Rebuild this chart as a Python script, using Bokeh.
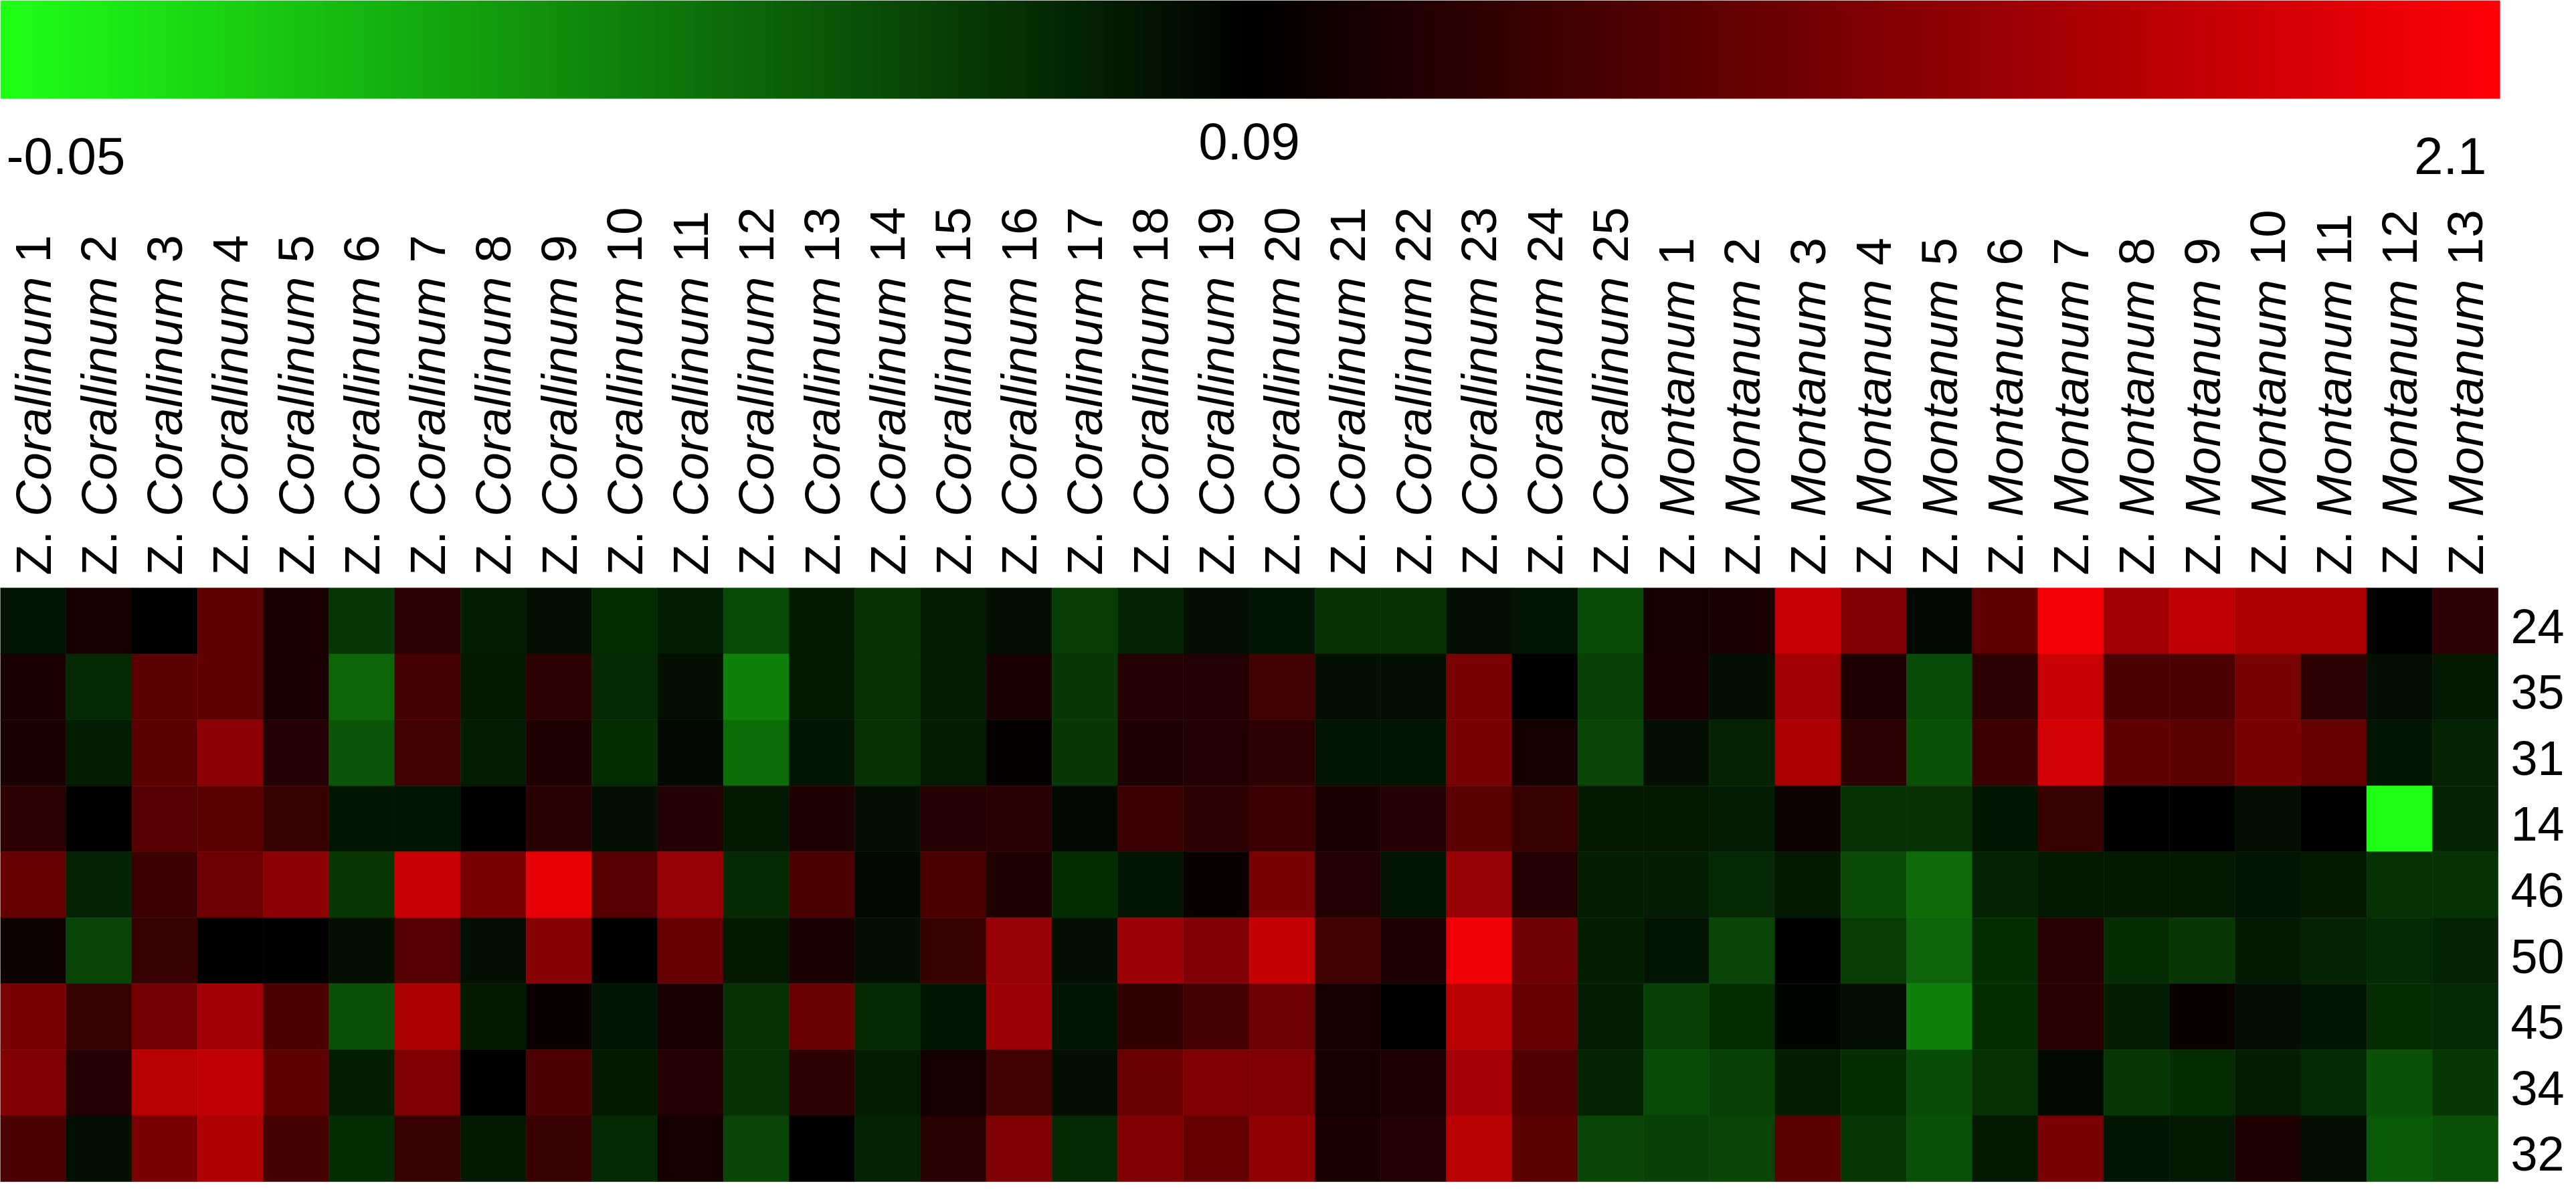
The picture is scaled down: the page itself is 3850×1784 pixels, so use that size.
import numpy as np
from bokeh.plotting import figure
from bokeh.models import ColumnDataSource, LinearColorMapper, Range1d
from bokeh.transform import transform
from bokeh.core.properties import value
from bokeh.embed import file_html
from bokeh.resources import INLINE

# ---------------- data ----------------
col_species = ["Corallinum"] * 25 + ["Montanum"] * 13
col_numbers = [str(i) for i in range(1, 26)] + [str(i) for i in range(1, 14)]
row_labels = ["24", "35", "31", "14", "46", "50", "45", "34", "32"]

# colour-scale anchors (left, centre, right) and their tick labels
scale_low, scale_mid, scale_high = -0.05, 0.09, 2.1
scale_tick_labels = ["-0.05", "0.09", "2.1"]

# values per row, columns: Corallinum 1-25 then Montanum 1-13
row_24 = [0.079, 0.25, 0.09, 0.84, 0.29, 0.060, 0.44, 0.074, 0.082, 0.065, 0.074, 0.049, 0.076,
          0.063, 0.074, 0.082, 0.057, 0.071, 0.082, 0.079, 0.063, 0.063, 0.082, 0.079, 0.049,
          0.25, 0.29, 1.67, 1.11, 0.085, 0.84, 2.02, 1.35, 1.59, 1.43, 1.43, 0.09, 0.44]
row_35 = [0.29, 0.068, 0.80, 0.84, 0.29, 0.035, 0.64, 0.076, 0.44, 0.068, 0.082, 0.019, 0.076,
          0.063, 0.074, 0.29, 0.060, 0.37, 0.37, 0.60, 0.082, 0.082, 1.04, 0.09, 0.054,
          0.29, 0.082, 1.35, 0.33, 0.049, 0.44, 1.67, 0.68, 0.68, 1.04, 0.44, 0.082, 0.076]
row_31 = [0.29, 0.074, 0.80, 1.19, 0.37, 0.043, 0.60, 0.074, 0.33, 0.065, 0.085, 0.030, 0.079,
          0.063, 0.074, 0.13, 0.060, 0.33, 0.37, 0.44, 0.079, 0.079, 1.04, 0.25, 0.052,
          0.082, 0.071, 1.43, 0.44, 0.046, 0.56, 1.74, 0.84, 0.80, 1.04, 0.88, 0.079, 0.071]
row_14 = [0.44, 0.09, 0.76, 0.80, 0.52, 0.079, 0.079, 0.09, 0.41, 0.082, 0.37, 0.076, 0.33,
          0.082, 0.37, 0.41, 0.085, 0.56, 0.44, 0.56, 0.29, 0.37, 0.80, 0.52, 0.076,
          0.076, 0.074, 0.21, 0.063, 0.063, 0.079, 0.52, 0.09, 0.09, 0.082, 0.09, -0.05, 0.071]
row_46 = [0.88, 0.071, 0.56, 0.96, 1.19, 0.060, 1.67, 1.04, 1.90, 0.76, 1.27, 0.068, 0.68,
          0.085, 0.68, 0.33, 0.065, 0.079, 0.17, 1.04, 0.37, 0.079, 1.27, 0.37, 0.074,
          0.074, 0.068, 0.076, 0.049, 0.032, 0.071, 0.076, 0.076, 0.076, 0.079, 0.076, 0.063, 0.063]
row_50 = [0.21, 0.052, 0.52, 0.09, 0.09, 0.082, 0.76, 0.082, 1.15, 0.09, 0.88, 0.076, 0.29,
          0.082, 0.52, 1.27, 0.082, 1.31, 1.11, 1.63, 0.60, 0.33, 1.98, 0.96, 0.074,
          0.079, 0.052, 0.09, 0.057, 0.035, 0.065, 0.41, 0.065, 0.060, 0.076, 0.071, 0.068, 0.071]
row_45 = [1.04, 0.52, 1.00, 1.35, 0.68, 0.046, 1.43, 0.076, 0.17, 0.079, 0.29, 0.063, 0.92,
          0.068, 0.079, 1.31, 0.079, 0.48, 0.64, 0.96, 0.25, 0.09, 1.55, 0.88, 0.074,
          0.054, 0.065, 0.087, 0.082, 0.019, 0.065, 0.41, 0.074, 0.17, 0.082, 0.079, 0.065, 0.068]
row_34 = [1.11, 0.37, 1.55, 1.59, 0.84, 0.074, 1.11, 0.09, 0.68, 0.076, 0.37, 0.063, 0.44,
          0.074, 0.25, 0.60, 0.082, 0.92, 1.08, 1.08, 0.25, 0.33, 1.39, 0.72, 0.071,
          0.049, 0.054, 0.074, 0.065, 0.049, 0.063, 0.085, 0.060, 0.065, 0.074, 0.068, 0.046, 0.060]
row_32 = [0.68, 0.082, 1.04, 1.47, 0.64, 0.065, 0.52, 0.076, 0.52, 0.068, 0.25, 0.052, 0.09,
          0.071, 0.41, 1.08, 0.068, 1.08, 0.88, 1.23, 0.29, 0.37, 1.55, 0.80, 0.052,
          0.054, 0.052, 0.80, 0.060, 0.046, 0.076, 1.04, 0.079, 0.076, 0.33, 0.082, 0.041, 0.046]

rows_values = [row_24, row_35, row_31, row_14, row_46, row_50, row_45, row_34, row_32]

# ---------------- layout constants ----------------
W, H = 3834, 1766
PX_X = 98.24          # pixels per column
PX_Y = 98.56          # pixels per row
HM_BOTTOM_PX = 1765   # heatmap bottom in figure pixels
n_cols = len(col_species)
n_rows = len(row_labels)

def ydata(fig_px):
    return (HM_BOTTOM_PX - fig_px) / PX_Y

def xdata(fig_px):
    return fig_px / PX_X

y0 = ydata(H)
y1 = ydata(0)

# ---------------- colour mapping ----------------
def scale_pos(v):
    # position along the colour bar (0 = left, 0.5 = centre, 1 = right)
    if v <= scale_mid:
        return 0.5 * (v - scale_low) / (scale_mid - scale_low)
    return 0.5 + 0.5 * (v - scale_mid) / (scale_high - scale_mid)

palette = []
for i in range(256):
    t = i / 255
    if t < 0.5:
        g = (0.5 - t) / 0.5
        palette.append("#%02x%02x%02x" % (int(round(30 * g)), int(round(255 * g)), int(round(22 * g))))
    else:
        r = (t - 0.5) / 0.5
        palette.append("#%02x%02x%02x" % (int(round(255 * r)), 0, int(round(6 * r))))
mapper = LinearColorMapper(palette=palette, low=0, high=1)

xs, ys, vals, pos = [], [], [], []
for ri, rv in enumerate(rows_values):
    for ci, v in enumerate(rv):
        xs.append(ci + 0.5)
        ys.append(n_rows - ri - 0.5)
        vals.append(v)
        pos.append(scale_pos(v))
src = ColumnDataSource(dict(x=xs, y=ys, v=vals, t=pos))

p = figure(width=W, height=H, x_range=Range1d(0, W / PX_X), y_range=Range1d(y0, y1),
           output_backend="svg", toolbar_location=None, min_border=0,
           x_axis_type=None, y_axis_type=None)
p.grid.visible = False
p.outline_line_color = None
p.background_fill_color = "white"
p.border_fill_color = "white"

p.rect(x="x", y="y", width=1, height=1, source=src,
       fill_color=transform("t", mapper), line_color=transform("t", mapper), line_width=0.6)

# ---------------- colour bar ----------------
grad = np.linspace(0, 1, 1200).reshape(1, -1)
cb_bottom = ydata(147)
p.image(image=[grad], x=0, y=cb_bottom, dw=38.03, dh=y1 - cb_bottom, color_mapper=mapper)

FONT = value("Liberation Sans")
p.text(x=[xdata(9), xdata(3716)], y=[ydata(232), ydata(232)],
       text=[scale_tick_labels[0], scale_tick_labels[2]],
       text_align=["left", "right"], text_baseline="alphabetic",
       text_font=FONT, text_font_size="78px", text_color="black")
p.text(x=[19.0], y=[ydata(210)], text=[scale_tick_labels[1]], text_align="center",
       text_baseline="alphabetic", text_font=FONT, text_font_size="78px", text_color="black")

# ---------------- row labels (right) ----------------
p.text(x=[xdata(3752)] * n_rows, y=[n_rows - i - 0.5 - 8 / PX_Y for i in range(n_rows)],
       text=row_labels, text_align="left", text_baseline="middle", text_font=FONT,
       text_font_size="72px", text_color="black")

# ---------------- column labels (rotated, mixed styles) ----------------
CW = {'Z': 0.611, '.': 0.278, ' ': 0.278, 'C': 0.722, 'o': 0.556, 'r': 0.333, 'a': 0.556,
      'l': 0.222, 'i': 0.222, 'n': 0.556, 'u': 0.556, 'm': 0.833, 'M': 0.833, 't': 0.278}
def text_w(s, fs):
    return sum(CW.get(c, 0.556) for c in s) * fs

FS = 75
label_base = n_rows + 19 / PX_Y
cx = [i + 0.5 for i in range(n_cols)]
z_y, sp_y, num_y = [], [], []
for sp in col_species:
    z_y.append(label_base)
    sp_y.append(label_base + text_w("Z. ", FS) / PX_Y)
    num_y.append(label_base + (text_w("Z. ", FS) + text_w(sp + " ", FS)) / PX_Y)

common = dict(angle=np.pi / 2, text_align="left", text_baseline="middle",
              text_font=FONT, text_font_size=f"{FS}px", text_color="black")
p.text(x=cx, y=z_y, text=["Z."] * n_cols, **common)
p.text(x=cx, y=sp_y, text=col_species, text_font_style="italic", **common)
p.text(x=cx, y=num_y, text=col_numbers, **common)

open("out.html", "w").write(file_html(p, INLINE))
